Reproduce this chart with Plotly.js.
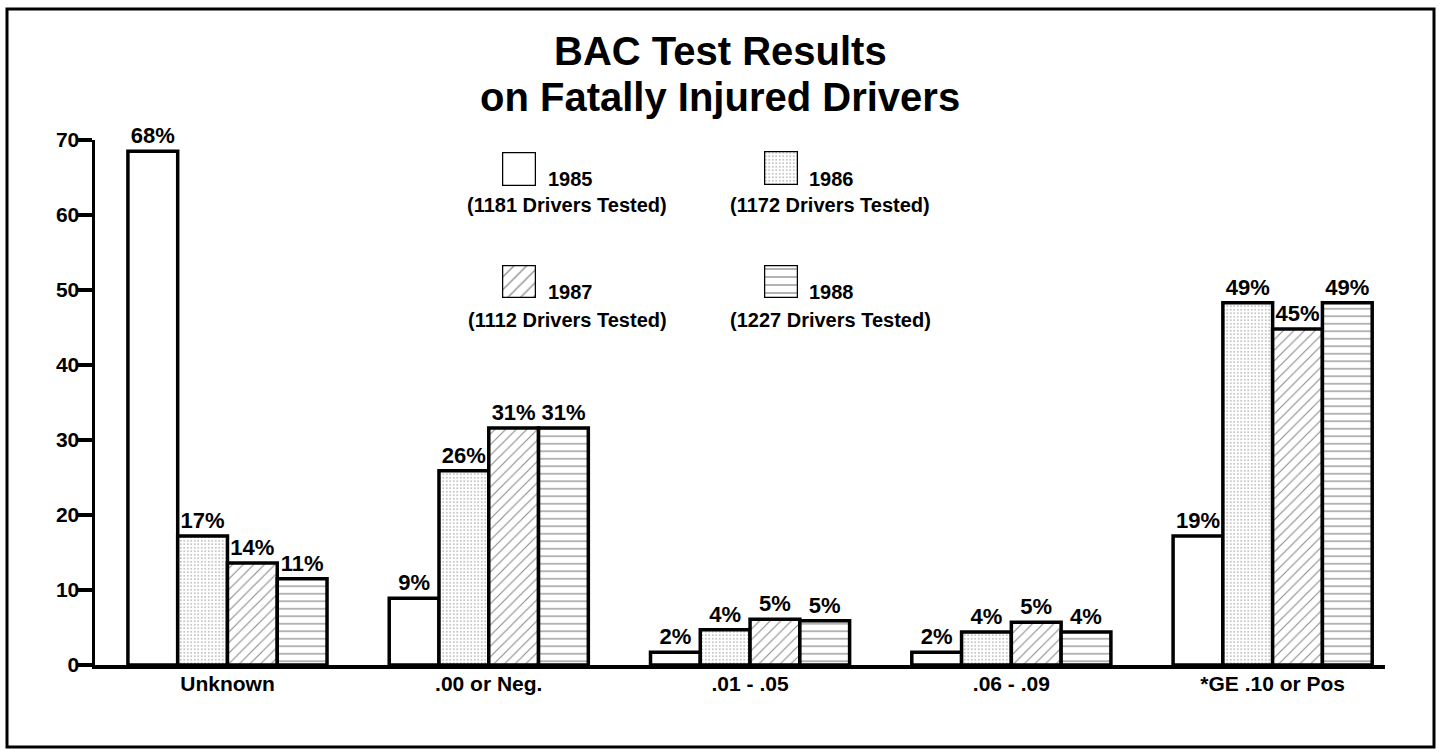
<!DOCTYPE html>
<html>
<head>
<meta charset="utf-8">
<script src="https://cdn.plot.ly/plotly-3.0.1.min.js"></script>
<style>
  html, body { margin: 0; padding: 0; background: #ffffff; }
  #chart { width: 1439px; height: 753px; }
</style>
</head>
<body>
<div id="chart"></div>
<script>
// ---- data ----
const categories = ['Unknown', '.00 or Neg.', '.01 - .05', '.06 - .09', '*GE .10 or Pos'];
const years = ['1985', '1986', '1987', '1988'];
const driversTested = ['1181', '1172', '1112', '1227'];

const values1985 = [68.5, 8.9, 1.7, 1.7, 17.2];
const values1986 = [17.2, 25.9, 4.7, 4.4, 48.3];
const values1987 = [13.6, 31.6, 6.1, 5.7, 44.8];
const values1988 = [11.5, 31.6, 5.9, 4.4, 48.3];

const labels1985 = ['68%', '9%', '2%', '2%', '19%'];
const labels1986 = ['17%', '26%', '4%', '4%', '49%'];
const labels1987 = ['14%', '31%', '5%', '5%', '45%'];
const labels1988 = ['11%', '31%', '5%', '4%', '49%'];

const yTicks = [0, 10, 20, 30, 40, 50, 60, 70];

// ---- styling ----
const FONT = 'Liberation Sans, Arial, Helvetica, sans-serif';
const patterns = [
  { shape: '', bgcolor: '#ffffff' },
  { shape: '.', size: 3.5, solidity: 0.2, fgcolor: '#666666', bgcolor: '#ffffff', fillmode: 'overlay' },
  { shape: '/', size: 7.5, solidity: 0.14, fgcolor: '#111111', bgcolor: '#ffffff', fillmode: 'overlay' },
  { shape: '-', size: 7.5, solidity: 0.16, fgcolor: '#111111', bgcolor: '#ffffff', fillmode: 'overlay' }
];
const seriesValues = [values1985, values1986, values1987, values1988];
const seriesLabels = [labels1985, labels1986, labels1987, labels1988];

// plot area in pixels (for converting layout positions to paper units)
const W = 1439, H = 753;
const L = 95, R = 54, T = 140, B = 88;
const pw = W - L - R, ph = H - T - B;
const px = x => (x - L) / pw;
const py = y => (H - B - y) / ph;

const traces = [];
years.forEach((yr, i) => {
  traces.push({
    type: 'bar',
    name: yr,
    x: categories,
    y: seriesValues[i],
    text: seriesLabels[i],
    textposition: 'outside',
    textangle: 0,
    constraintext: 'none',
    cliponaxis: false,
    textfont: { family: FONT, size: 22, color: '#000000', weight: 'bold' },
    marker: {
      color: '#ffffff',
      pattern: patterns[i],
      line: { color: '#000000', width: 3.5 }
    },
    hoverinfo: 'skip',
    showlegend: false
  });
});

// legend swatches: one square per year on its own small axis
const swatchX = [[502, 536], [764, 798], [502, 536], [764, 798]];
const swatchY = [[152, 186], [151, 185], [265, 298], [265, 298]];
const layoutExtra = {};
years.forEach((yr, i) => {
  const n = i + 2;
  traces.push({
    type: 'bar',
    x: [0], y: [1], width: [1],
    xaxis: 'x' + n, yaxis: 'y' + n,
    cliponaxis: false,
    marker: {
      color: '#ffffff',
      pattern: Object.assign({}, patterns[i], i === 2 ? { size: 9 } : (i === 3 ? { size: 8 } : {})),
      line: { color: '#000000', width: 2.5 }
    },
    hoverinfo: 'skip',
    showlegend: false
  });
  layoutExtra['xaxis' + n] = {
    domain: [px(swatchX[i][0]), px(swatchX[i][1])],
    range: [-0.5, 0.5], visible: false, anchor: 'y' + n, fixedrange: true
  };
  layoutExtra['yaxis' + n] = {
    domain: [py(swatchY[i][1]), py(swatchY[i][0])],
    range: [0, 1], visible: false, anchor: 'x' + n, fixedrange: true
  };
});

// legend texts
const yearTextPos = [[546, 179], [807, 179], [546, 292], [807, 292]];
const testedTextPos = [[567, 205], [830, 205], [567, 320], [830, 320]];
const annotations = [];
years.forEach((yr, i) => {
  annotations.push({
    text: yr, xref: 'paper', yref: 'paper',
    x: px(yearTextPos[i][0]), y: py(yearTextPos[i][1]),
    xanchor: 'left', yanchor: 'middle', showarrow: false,
    font: { family: FONT, size: 20, color: '#000000', weight: 'bold' }
  });
  annotations.push({
    text: '(' + driversTested[i] + ' Drivers Tested)', xref: 'paper', yref: 'paper',
    x: px(testedTextPos[i][0]), y: py(testedTextPos[i][1]),
    xanchor: 'center', yanchor: 'middle', showarrow: false,
    font: { family: FONT, size: 20, color: '#000000', weight: 'bold' }
  });
});
// title lines
annotations.push({
  text: 'BAC Test Results', xref: 'paper', yref: 'paper',
  x: px(720), y: py(51), xanchor: 'center', yanchor: 'middle', showarrow: false,
  font: { family: FONT, size: 40, color: '#000000', weight: 'bold' }
});
annotations.push({
  text: 'on Fatally Injured Drivers', xref: 'paper', yref: 'paper',
  x: px(720), y: py(97), xanchor: 'center', yanchor: 'middle', showarrow: false,
  font: { family: FONT, size: 40, color: '#000000', weight: 'bold' }
});

const layout = Object.assign({
  width: W, height: H,
  margin: { l: L, r: R, t: T, b: B, pad: 0 },
  paper_bgcolor: '#ffffff',
  plot_bgcolor: 'rgba(0,0,0,0)',
  barmode: 'group',
  bargap: 0.238,
  bargroupgap: 0,
  showlegend: false,
  font: { family: FONT, color: '#000000' },
  xaxis: {
    type: 'category',
    range: [-0.507, 4.43],
    showline: true, linecolor: '#000000', linewidth: 4,
    ticks: '', showgrid: false, zeroline: false,
    tickfont: { family: FONT, size: 21, color: '#000000', weight: 'bold' },
    ticklabelstandoff: -3,
    fixedrange: true
  },
  yaxis: {
    range: [0, 70],
    tickvals: yTicks,
    ticktext: yTicks.map(String),
    showline: true, linecolor: '#000000', linewidth: 3.5,
    ticks: 'outside', ticklen: 14, tickwidth: 3.5, tickcolor: '#000000',
    showgrid: false, zeroline: false,
    tickfont: { family: FONT, size: 21, color: '#000000', weight: 'bold' },
    ticklabelstandoff: -6,
    fixedrange: true
  },
  annotations: annotations,
  shapes: [{
    type: 'rect', xref: 'paper', yref: 'paper',
    x0: px(7), x1: px(1434), y0: py(747), y1: py(9),
    line: { color: '#000000', width: 3 }, fillcolor: 'rgba(0,0,0,0)', layer: 'below'
  }]
}, layoutExtra);

Plotly.newPlot('chart', traces, layout, { staticPlot: true, displayModeBar: false });
</script>
</body>
</html>
